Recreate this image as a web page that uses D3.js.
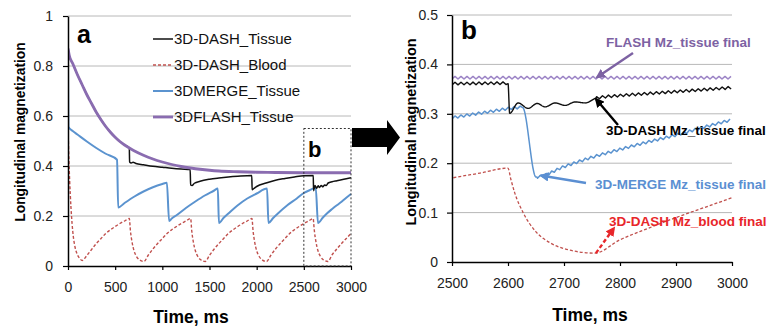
<!DOCTYPE html>
<html>
<head>
<meta charset="utf-8">
<script src="https://cdn.jsdelivr.net/npm/d3@7"></script>
<style>
  body { margin: 0; background: #fff; }
  svg { font-family: "Liberation Sans", Arial, sans-serif; }
  .tick text { font-size: 14px; fill: #222; }
</style>
</head>
<body>
<svg></svg>
<script>
const width = 776;
const height = 327;

// datos [tiempo ms, Mz]
const flashTissue = [[0,0.87],[15,0.84],[50,0.81],[100,0.765],[150,0.725],[200,0.685],[250,0.65],[300,0.615],[350,0.585],[400,0.558],[450,0.535],[500,0.515],[550,0.498],[600,0.484],[650,0.472],[700,0.461],[800,0.443],[900,0.428],[1000,0.416],[1100,0.406],[1200,0.398],[1300,0.392],[1400,0.387],[1500,0.383],[1600,0.38],[1800,0.377],[2000,0.375],[2200,0.374],[2500,0.373],[3000,0.373]];

const dashTissue = [[0,0.87],[15,0.84],[50,0.81],[100,0.765],[150,0.725],[200,0.685],[250,0.65],[300,0.615],[350,0.585],[400,0.558],[450,0.535],[500,0.515],[550,0.498],[600,0.484],[650,0.472],[653,0.416],[670,0.412],[690,0.415],[720,0.41],[800,0.405],[900,0.399],[1000,0.395],[1100,0.391],[1200,0.388],[1295,0.386],[1300,0.324],[1315,0.322],[1340,0.331],[1400,0.339],[1500,0.347],[1600,0.352],[1700,0.356],[1800,0.359],[1948,0.362],[1952,0.305],[1970,0.31],[2000,0.318],[2100,0.332],[2200,0.343],[2300,0.35],[2400,0.356],[2500,0.361],[2600,0.362],[2603,0.301],[2618,0.322],[2636,0.311],[2652,0.321],[2666,0.314],[2684,0.322],[2702,0.317],[2720,0.324],[2738,0.322],[2758,0.332],[2800,0.337],[2850,0.341],[2900,0.345],[2950,0.349],[3000,0.353]];

const dashBlood = [[0,0.56],[10,0.42],[25,0.28],[50,0.14],[75,0.075],[100,0.045],[125,0.03],[150,0.022],[200,0.042],[250,0.066],[300,0.09],[350,0.11],[400,0.13],[450,0.145],[500,0.158],[550,0.17],[600,0.18],[650,0.19],[662,0.14],[677,0.10],[700,0.061],[725,0.039],[750,0.027],[805,0.018],[850,0.043],[900,0.068],[950,0.09],[1000,0.11],[1050,0.13],[1100,0.145],[1150,0.158],[1200,0.17],[1250,0.18],[1300,0.19],[1312,0.14],[1327,0.10],[1350,0.061],[1375,0.039],[1400,0.027],[1455,0.018],[1500,0.043],[1550,0.068],[1600,0.09],[1650,0.11],[1700,0.13],[1750,0.145],[1800,0.158],[1850,0.17],[1900,0.18],[1950,0.19],[1962,0.14],[1977,0.10],[2000,0.061],[2025,0.039],[2050,0.027],[2105,0.018],[2150,0.043],[2200,0.068],[2250,0.09],[2300,0.11],[2350,0.13],[2400,0.145],[2450,0.158],[2500,0.17],[2550,0.18],[2600,0.19],[2605,0.168],[2612,0.14],[2627,0.10],[2650,0.061],[2675,0.039],[2700,0.027],[2755,0.018],[2800,0.045],[2850,0.068],[2900,0.09],[2950,0.11],[3000,0.13]];

const mergeTissue = [[0,0.80],[4,0.557],[50,0.54],[100,0.526],[200,0.498],[300,0.472],[400,0.449],[520,0.425],[532,0.234],[600,0.252],[700,0.277],[800,0.298],[900,0.315],[1000,0.328],[1048,0.333],[1072,0.18],[1100,0.19],[1150,0.203],[1250,0.232],[1350,0.258],[1450,0.282],[1550,0.302],[1588,0.31],[1600,0.172],[1650,0.193],[1700,0.21],[1800,0.243],[1900,0.27],[2000,0.29],[2110,0.31],[2125,0.172],[2175,0.192],[2225,0.21],[2325,0.243],[2425,0.27],[2500,0.292],[2560,0.303],[2626,0.313],[2650,0.172],[2700,0.193],[2750,0.212],[2800,0.228],[2850,0.243],[2900,0.257],[2950,0.273],[3000,0.288]];

// tramos con rizado (ms) en el panel b
const rizoFlash = [[2500, 3000]];
const rizoDash = [[2500, 2600], [2758, 3000]];
const rizoMerge = [[2500, 2625], [2652, 3000]];

const leyenda = ["3D-DASH_Tissue", "3D-DASH_Blood", "3DMERGE_Tissue", "3DFLASH_Tissue"];

const xTicksA = [0, 500, 1000, 1500, 2000, 2500, 3000];
const yTicksA = [0, 0.2, 0.4, 0.6, 0.8, 1];
const xTicksB = [2500, 2600, 2700, 2800, 2900, 3000];
const yTicksB = [0, 0.1, 0.2, 0.3, 0.4, 0.5];

const colores = { dash: "#111", blood: "#c0504d", merge: "#5b93cf", flash: "#8a6cb0" };

const svg = d3.select("svg").attr("width", width).attr("height", height);

//escalas
const xa = d3.scaleLinear().domain([0, 3000]).range([68, 351]);
const ya = d3.scaleLinear().domain([0, 1]).range([266, 16]);
const xb = d3.scaleLinear().domain([2500, 3000]).range([452, 732]);
const yb = d3.scaleLinear().domain([0, 0.5]).range([262, 15]);

const series = [
  { data: dashBlood, color: colores.blood, wa: 1.4, wb: 1.3, dash: "3,2", rizo: [] },
  { data: mergeTissue, color: colores.merge, wa: 2, wb: 1.5, dash: null, rizo: rizoMerge },
  { data: dashTissue, color: colores.dash, wa: 1.5, wb: 1.4, dash: null, rizo: rizoDash },
  { data: flashTissue, color: colores.flash, wa: 2.8, wb: 1.5, dash: null, rizo: rizoFlash, cb: "#9c84c6" }
];

// estilo de trazo en zigzag sobre el path ya dibujado
function zigzag(node, x, tramos, amp, paso) {
  const L = node.getTotalLength();
  const out = [];
  let lastX = -1e9, k = 0;
  for (let l = 0; l <= L; l += 0.5) {
    const p = node.getPointAtLength(l);
    const t = x.invert(p.x);
    const dentro = tramos.some(r => t >= r[0] && t <= r[1]);
    if (!dentro) { out.push([p.x, p.y]); lastX = -1e9; continue; }
    if (p.x - lastX >= paso) {
      k++;
      out.push([p.x, p.y + (k % 2 ? amp : -amp)]);
      lastX = p.x;
    }
  }
  return d3.line()(out);
}

function panel(x, y, xTicks, yTicks, pad, id, isB) {
  const g = svg.append("g");
  // grid
  g.selectAll(".grid").data(yTicks.filter(d => d > 0)).join("line")
    .attr("x1", x.range()[0]).attr("x2", x.range()[1])
    .attr("y1", d => y(d)).attr("y2", d => y(d))
    .attr("stroke", "#b8b8b8").attr("stroke-width", 1);

  g.append("clipPath").attr("id", id).append("rect")
    .attr("x", x.range()[0]).attr("y", y.range()[1] - 2)
    .attr("width", x.range()[1] - x.range()[0] + 1)
    .attr("height", y.range()[0] - y.range()[1] + 2);

  const line = d3.line().x(d => x(d[0])).y(d => y(d[1])).curve(d3.curveMonotoneX);
  const paths = g.append("g").attr("clip-path", `url(#${id})`)
    .selectAll("path").data(series).join("path")
    .attr("d", s => line(s.data.filter(d => d[0] >= x.domain()[0] - 60)))
    .attr("fill", "none")
    .attr("stroke", s => (isB && s.cb) ? s.cb : s.color)
    .attr("stroke-width", s => isB ? s.wb : s.wa)
    .attr("stroke-dasharray", s => s.dash)
    .attr("stroke-linejoin", "round");
  if (isB) {
    paths.each(function(s) {
      if (s.rizo.length) d3.select(this).attr("d", zigzag(this, x, s.rizo, 1.3, 2.65));
    });
  }

  //ejes
  const ax = g.append("g").attr("transform", `translate(0,${y.range()[0]})`)
    .call(d3.axisBottom(x).tickValues(xTicks).tickSize(4).tickSizeOuter(0).tickPadding(12).tickFormat(d => d));
  const ay = g.append("g").attr("transform", `translate(${x.range()[0]},0)`)
    .call(d3.axisLeft(y).tickValues(yTicks).tickSize(5).tickSizeOuter(0).tickPadding(pad).tickFormat(d => d));
  [ax, ay].forEach(a => {
    a.select(".domain").attr("stroke", "#000").attr("stroke-width", 1.5);
    a.selectAll(".tick line").attr("stroke", "#000").attr("stroke-width", 1.2);
    a.selectAll("text").attr("font-family", "Liberation Sans, Arial, sans-serif");
  });
  return g;
}

panel(xa, ya, xTicksA, yTicksA, 10, "clipA", false);
panel(xb, yb, xTicksB, yTicksB, 9, "clipB", true);

//etiquetas
svg.append("text").attr("x", 191).attr("y", 323).attr("text-anchor", "middle")
  .attr("font-size", 17.5).attr("font-weight", "bold").text("Time, ms");
svg.append("text").attr("x", 590).attr("y", 321).attr("text-anchor", "middle")
  .attr("font-size", 17.5).attr("font-weight", "bold").text("Time, ms");
svg.append("text").attr("transform", "translate(25,132) rotate(-90)").attr("text-anchor", "middle")
  .attr("font-size", 13.8).attr("font-weight", "bold").text("Longitudinal magnetization");
svg.append("text").attr("transform", "translate(416,132) rotate(-90)").attr("text-anchor", "middle")
  .attr("font-size", 14.4).attr("font-weight", "bold").text("Longitudinal magnetization");

svg.append("text").attr("x", 77).attr("y", 43).attr("font-size", 25).attr("font-weight", "bold").text("a");
svg.append("text").attr("x", 461).attr("y", 39).attr("font-size", 26).attr("font-weight", "bold").text("b");

//leyenda
const legColors = [colores.dash, colores.blood, colores.merge, colores.flash];
const legDash = [null, "3,2", null, null];
const legW = [1.5, 1.5, 2, 2.8];
leyenda.forEach((t, i) => {
  const yy = 39 + i * 26;
  svg.append("line").attr("x1", 153).attr("x2", 173).attr("y1", yy).attr("y2", yy)
    .attr("stroke", legColors[i]).attr("stroke-width", legW[i]).attr("stroke-dasharray", legDash[i]);
  svg.append("text").attr("x", 174).attr("y", yy).attr("dy", "0.36em")
    .attr("font-size", 15).attr("fill", "#111").text(t);
});

//recuadro b
svg.append("rect").attr("x", xa(2500)).attr("y", ya(0.55))
  .attr("width", xa(3000) - xa(2500)).attr("height", ya(0) - ya(0.55))
  .attr("fill", "none").attr("stroke", "#333").attr("stroke-width", 1).attr("stroke-dasharray", "2,2");
svg.append("text").attr("x", 308).attr("y", 157).attr("font-size", 22).attr("font-weight", "bold").text("b");

//flecha grande
svg.append("path").attr("d", "M352,128 L387,128 L387,120 L400,137.5 L387,155 L387,147 L352,147 Z").attr("fill", "#000");

//anotaciones
const defs = svg.append("defs");
function head(id, color) {
  defs.append("marker").attr("id", id).attr("viewBox", "0 0 10 10")
    .attr("refX", 8).attr("refY", 5).attr("markerWidth", 4).attr("markerHeight", 4)
    .attr("orient", "auto").append("path").attr("d", "M0,0 L10,5 L0,10 Z").attr("fill", color);
}
head("hP", "#7d62a3"); head("hK", "#000"); head("hB", "#5b8fd2"); head("hR", "#e8262a");

const notas = [
  { t: "FLASH Mz_tissue final", x: 606, y: 42, c: "#7d62a3", from: [633, 53], to: [xb(2759), yb(0.376) + 1], m: "hP", dash: null },
  { t: "3D-DASH Mz_tissue final", x: 606, y: 130, c: "#000", from: [618, 125], to: [xb(2757), yb(0.332) + 1], m: "hK", dash: null },
  { t: "3D-MERGE Mz_tissue final", x: 595, y: 184, c: "#5b8fd2", from: [586, 183], to: [xb(2657) + 1, yb(0.175)], m: "hB", dash: null },
  { t: "3D-DASH Mz_blood final", x: 609, y: 221, c: "#e8262a", from: [xb(2757), yb(0.018)], to: [614, 228], m: "hR", dash: "4,2.5" }
];
notas.forEach(n => {
  svg.append("line").attr("x1", n.from[0]).attr("y1", n.from[1]).attr("x2", n.to[0]).attr("y2", n.to[1])
    .attr("stroke", n.c).attr("stroke-width", 2.4).attr("stroke-dasharray", n.dash)
    .attr("marker-end", `url(#${n.m})`);
  svg.append("text").attr("x", n.x).attr("y", n.y).attr("dy", "0.36em")
    .attr("font-size", 13.5).attr("font-weight", "bold").attr("fill", n.c).text(n.t);
});
</script>
</body>
</html>
